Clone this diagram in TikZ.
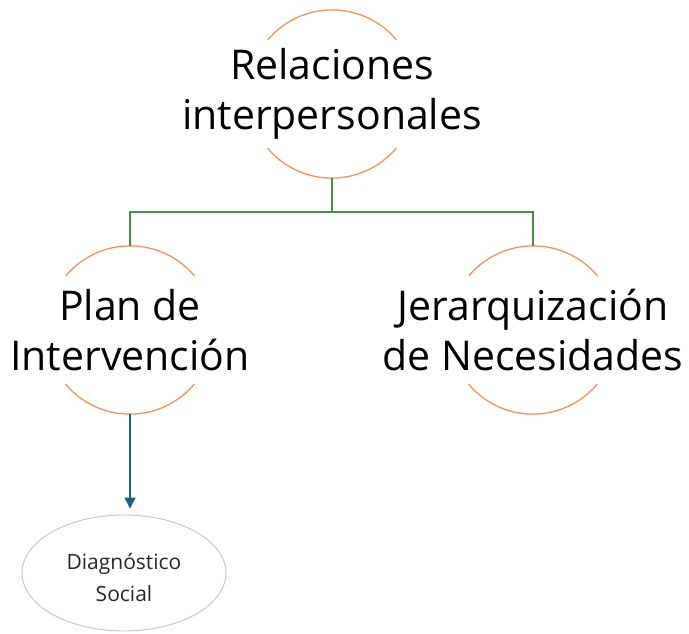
\documentclass[tikz,border=0pt]{standalone}
\usepackage{fontspec}
\setmainfont{Open Sans}
\usetikzlibrary{arrows.meta,shapes.geometric}

\definecolor{arcorange}{RGB}{241,146,98}
\definecolor{treegreen}{RGB}{72,140,72}
\definecolor{flowblue}{RGB}{28,96,136}
\definecolor{ringgrey}{RGB}{196,196,196}

\begin{document}
\begin{tikzpicture}[x=1pt,y=1pt]
		\tikzstyle{ring}=[circle,minimum size=168pt,inner sep=0pt]
		\tikzstyle{topic}=[align=center,inner sep=0pt,font=\fontsize{41}{50}\selectfont]
		\tikzstyle{half arcs}=[draw=arcorange,line width=1.3pt]
		\tikzstyle{tree}=[draw=treegreen,line width=1.1pt]
		\tikzstyle{flow}=[draw=flowblue,line width=1.1pt,-{Triangle[length=11pt,width=11pt]},shorten >=6pt]
		\tikzstyle{leaf}=[ellipse,draw=ringgrey,line width=0.9pt,minimum width=204pt,minimum height=116pt,align=center,font=\fontsize{21}{32}\selectfont,text=black!85]
		
		\useasboundingbox (0,0) rectangle (689,633);
		
		\node[ring,label={[topic]center:Relaciones\\interpersonales}] (rel) at (332,539) {};
		\node[ring,label={[topic]center:Plan de\\Intervención}] (plan) at (130,303) {};
		\node[ring,label={[topic]center:Jerarquización\\de Necesidades}] (jer) at (533,303) {};
		\node[leaf,label={[font=\fontsize{21}{32}\selectfont,text=black!85,align=center,yshift=-5pt]center:Diagnóstico\\Social}] (diag) at (124,60) {};
		\coordinate (fork) at (332,421);
		
		% the two open arcs round each topic
		\foreach \t in {rel,plan,jer}
		{
			\draw[half arcs] (\t.40) arc[start angle=40,end angle=140,radius=84pt];
			\draw[half arcs] (\t.220) arc[start angle=220,end angle=320,radius=84pt];
		}
		
		\draw[tree] (rel.south) -- (fork);
		\draw[tree] (fork) -| (plan.north);
		\draw[tree] (fork) -| (jer.north);
		\draw[flow] (plan.south) -- (plan.south |- diag.north);
\end{tikzpicture}
\end{document}
